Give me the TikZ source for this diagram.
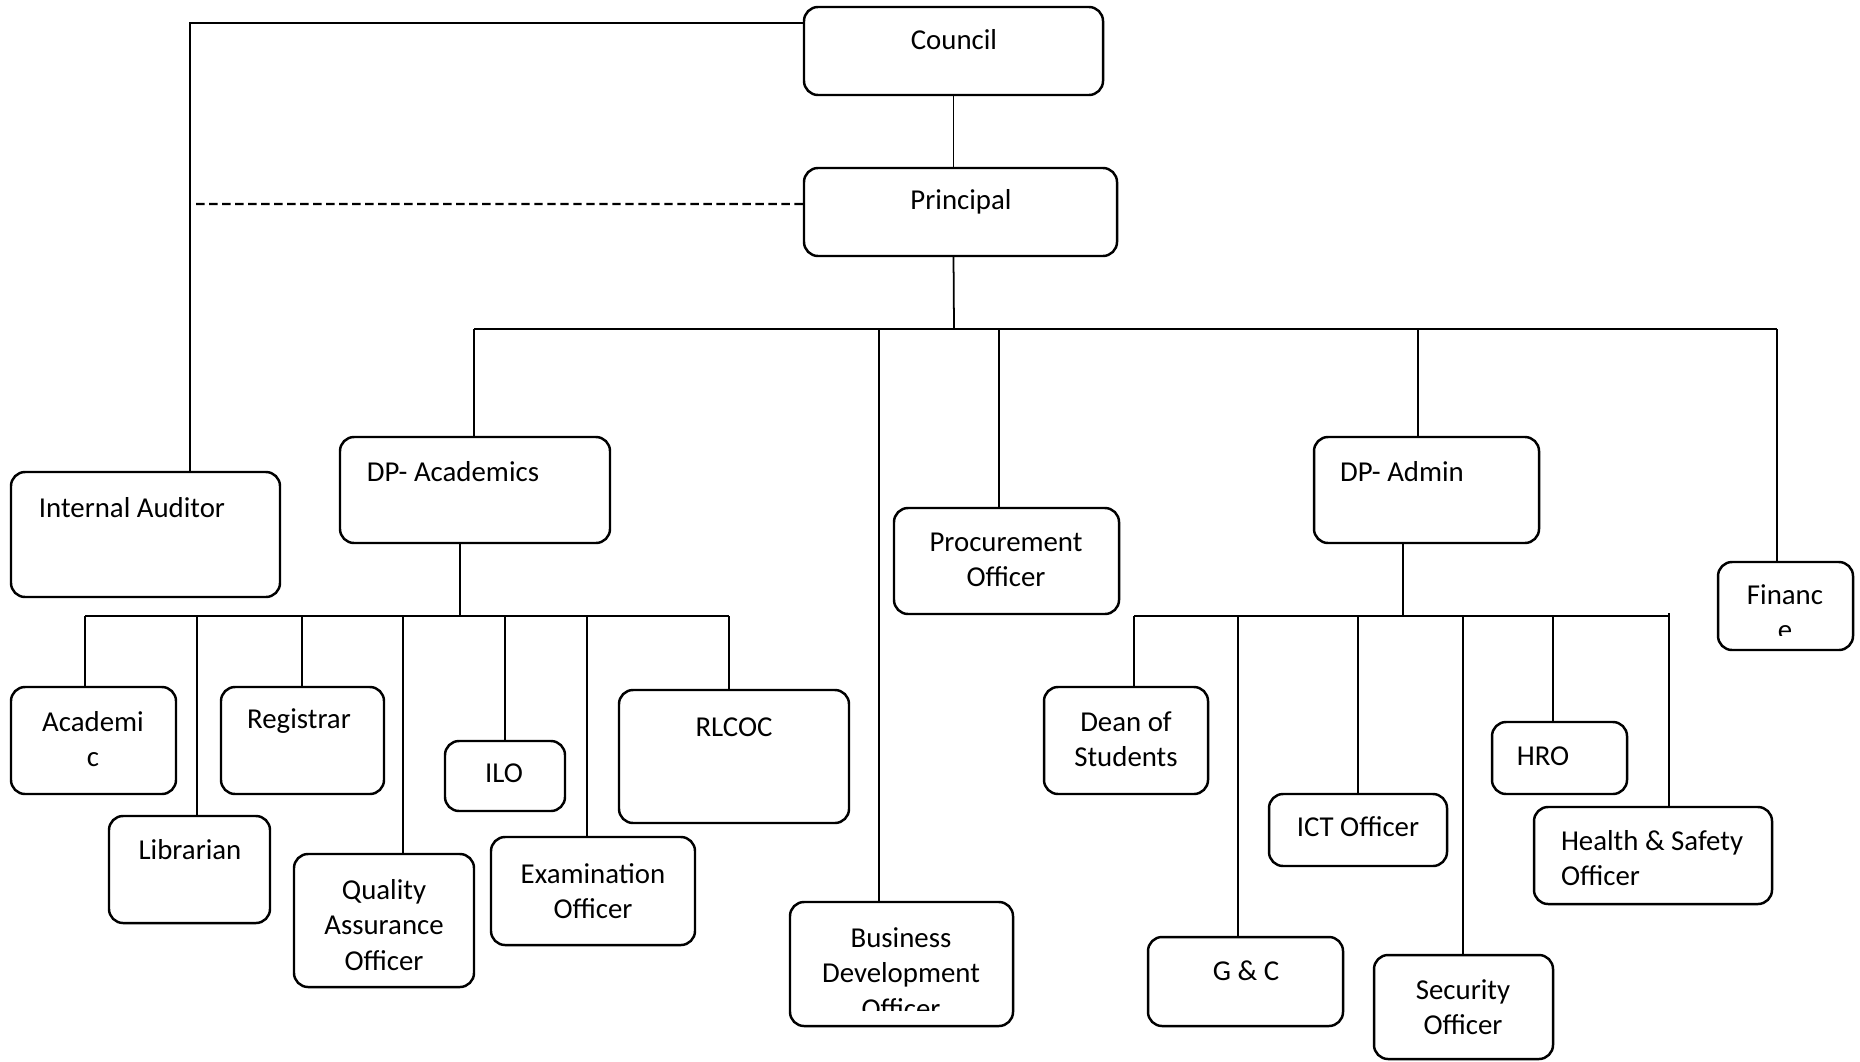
\documentclass[tikz,border=0pt]{standalone}
\usepackage{fontspec}
\setmainfont{Carlito}

\tikzset{
  unit/.style={draw, line width=0.7pt, rounded corners=4pt, inner sep=0pt},
  lbl/.style={inner sep=0pt, align=center, font=\fontsize{8.2}{10.1}\selectfont},
  link/.style={line width=0.5pt}
}

\begin{document}
\begin{tikzpicture}
\useasboundingbox (0,0) rectangle (18.6,10.61);

%% boxes
\node[unit, minimum width=2.99cm, minimum height=0.88cm] (council) at (9.535,10.10) {};   %% council
\node[unit, minimum width=3.13cm, minimum height=0.88cm] (principal) at (9.605,8.49) {};  %% principal
\node[unit, minimum width=2.69cm, minimum height=1.25cm] (auditor) at (1.455,5.265) {};   %% internal auditor
\node[unit, minimum width=2.70cm, minimum height=1.06cm] (dpacad) at (4.75,5.71) {};      %% dp academics
\node[unit, minimum width=2.25cm, minimum height=1.06cm] (proc) at (10.065,5.00) {};      %% procurement
\node[unit, minimum width=2.25cm, minimum height=1.06cm] (dpadm) at (14.265,5.71) {};     %% dp admin
\node[unit, minimum width=1.35cm, minimum height=0.88cm] (fin) at (17.855,4.55) {};       %% finance
\node[unit, minimum width=1.65cm, minimum height=1.07cm] (acad) at (0.935,3.205) {};      %% academic
\node[unit, minimum width=1.63cm, minimum height=1.07cm] (reg) at (3.025,3.205) {};       %% registrar
\node[unit, minimum width=1.61cm, minimum height=1.07cm] (lib) at (1.895,1.915) {};       %% librarian
\node[unit, minimum width=1.80cm, minimum height=1.33cm] (qao) at (3.84,1.405) {};        %% quality assurance
\node[unit, minimum width=1.20cm, minimum height=0.70cm] (ilo) at (5.05,2.85) {};         %% ilo
\node[unit, minimum width=2.04cm, minimum height=1.08cm] (exam) at (5.93,1.70) {};        %% examination
\node[unit, minimum width=2.30cm, minimum height=1.33cm] (rlcoc) at (7.34,3.045) {};      %% rlcoc
\node[unit, minimum width=2.23cm, minimum height=1.24cm] (bdo) at (9.015,0.97) {};        %% business development
\node[unit, minimum width=1.64cm, minimum height=1.07cm] (dean) at (11.26,3.205) {};      %% dean of students
\node[unit, minimum width=1.95cm, minimum height=0.89cm] (gc) at (12.455,0.795) {};       %% g & c
\node[unit, minimum width=1.78cm, minimum height=0.72cm] (ict) at (13.58,2.31) {};        %% ict
\node[unit, minimum width=1.79cm, minimum height=1.04cm] (sec) at (14.635,0.54) {};       %% security
\node[unit, minimum width=1.35cm, minimum height=0.72cm] (hro) at (15.595,3.03) {};       %% hro
\node[unit, minimum width=2.38cm, minimum height=0.97cm] (hs) at (16.53,2.055) {};        %% health & safety

%% box texts
\node[lbl] (council-t) at (9.54,10.21) {Council};
\node[lbl] (principal-t) at (9.61,8.59) {Principal};
\node[lbl] (auditor-t) at (1.32,5.53) {Internal Auditor};
\node[lbl] (dpacad-t) at (4.53,5.89) {DP- Academics};
\node[lbl] (proc-t) at (10.06,5.01) {Procurement\\Officer};
\node[lbl] (dpadm-t) at (14.02,5.89) {DP- Admin};
\node[lbl] (acad-t) at (0.93,3.22) {Academi\\c};
\node[lbl] (reg-t) at (2.99,3.40) {Registrar};
\node[lbl] (lib-t) at (1.90,2.11) {Librarian};
\node[lbl] (qao-t) at (3.84,1.36) {Quality\\Assurance\\Officer};
\node[lbl] (ilo-t) at (5.04,2.88) {ILO};
\node[lbl] (exam-t) at (5.93,1.70) {Examination\\Officer};
\node[lbl] (rlcoc-t) at (7.34,3.34) {RLCOC};
\node[lbl] (dean-t) at (11.26,3.22) {Dean of\\Students};
\node[lbl] (ict-t) at (13.58,2.34) {ICT Officer};
\node[lbl] (hro-t) at (15.43,3.05) {HRO};
\node[lbl, align=left] (hs-t) at (16.52,2.03) {Health \& Safety\\Officer};
\node[lbl] (gc-t) at (12.46,0.90) {G \& C};
\node[lbl] (sec-t) at (14.63,0.54) {Security\\Officer};
\begin{scope}
  \clip (17.18,4.26) rectangle (18.53,5.0);
  \node[lbl] (fin-t) at (17.85,4.49) {Financ\\e};
\end{scope}
\begin{scope}
  \clip (7.90,0.51) rectangle (10.13,1.6);
  \node[lbl] (bdo-t) at (9.01,0.88) {Business\\Development\\Officer};
\end{scope}

%% bus points
\coordinate (p-bus) at (9.54,7.32);
\coordinate (t-acad) at (4.74,7.32);
\coordinate (t-bdo) at (8.79,7.32);
\coordinate (t-proc) at (9.99,7.32);
\coordinate (t-adm) at (14.18,7.32);
\coordinate (t-fin) at (17.77,7.32);
\coordinate (a-hub) at (4.60,4.45);
\coordinate (s-acad) at (0.85,4.45);
\coordinate (s-lib) at (1.97,4.45);
\coordinate (s-reg) at (3.02,4.45);
\coordinate (s-qao) at (4.03,4.45);
\coordinate (s-ilo) at (5.05,4.45);
\coordinate (s-exam) at (5.87,4.45);
\coordinate (s-rlcoc) at (7.29,4.45);
\coordinate (d-hub) at (14.03,4.45);
\coordinate (s-dean) at (11.34,4.45);
\coordinate (s-gc) at (12.38,4.45);
\coordinate (s-ict) at (13.58,4.45);
\coordinate (s-sec) at (14.63,4.45);
\coordinate (s-hro) at (15.53,4.45);
\coordinate (s-hs) at (16.69,4.45);
\coordinate (dash-end) at (1.93,8.57);

%% top lines
\draw[link] ([yshift=-0.17cm]council.north west) -| ([xshift=0.445cm]auditor.north);
\draw[link, line width=0.6pt, dash pattern=on 2.4pt off 1.3pt] ([yshift=0.08cm]principal.west) -- (dash-end);
\draw[link] (council.south) -- (council.south |- principal.north);
\draw[link] (council.south |- principal.south) -- (p-bus);
\draw[link] (t-acad) -- (t-fin);
\draw[link] (t-acad) -- (t-acad |- dpacad.north);
\draw[link] (t-bdo) -- (t-bdo |- bdo.north);
\draw[link] (t-proc) -- (t-proc |- proc.north);
\draw[link] (t-adm) -- (t-adm |- dpadm.north);
\draw[link] (t-fin) -- (t-fin |- fin.north);

%% academics lines
\draw[link] (a-hub |- dpacad.south) -- (a-hub);
\draw[link] (s-acad) -- (s-rlcoc);
\draw[link] (s-acad) -- (s-acad |- acad.north);
\draw[link] (s-lib) -- (s-lib |- lib.north);
\draw[link] (s-reg) -- (s-reg |- reg.north);
\draw[link] (s-qao) -- (s-qao |- qao.north);
\draw[link] (s-ilo) -- (s-ilo |- ilo.north);
\draw[link] (s-exam) -- (s-exam |- exam.north);
\draw[link] (s-rlcoc) -- (s-rlcoc |- rlcoc.north);

%% admin lines
\draw[link] (d-hub |- dpadm.south) -- (d-hub);
\draw[link] (s-dean) -- (s-hs);
\draw[link] (s-dean) -- (s-dean |- dean.north);
\draw[link] (s-gc) -- (s-gc |- gc.north);
\draw[link] (s-ict) -- (s-ict |- ict.north);
\draw[link] (s-sec) -- (s-sec |- sec.north);
\draw[link] (s-hro) -- (s-hro |- hro.north);
\draw[link] ([yshift=0.3mm]s-hs) -- (s-hs |- hs.north);
\end{tikzpicture}
\end{document}
